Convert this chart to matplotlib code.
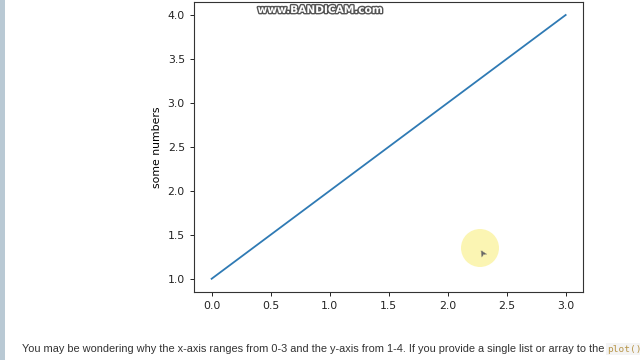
import matplotlib
matplotlib.use("Agg")
import matplotlib.pyplot as plt
import matplotlib.patheffects as pe
from matplotlib.patches import Ellipse, Rectangle

# datos del ejemplo: plt.plot([1, 2, 3, 4])
y_vals = [1, 2, 3, 4]
x_vals = [0, 1, 2, 3]
y_label = "some numbers"
x_ticks = [0.0, 0.5, 1.0, 1.5, 2.0, 2.5, 3.0]
y_ticks = [1.0, 1.5, 2.0, 2.5, 3.0, 3.5, 4.0]

fig = plt.figure(figsize=(6.4, 3.6), dpi=100)
fig.patch.set_facecolor("white")

# barra lateral gris-azulada de la pagina
fig.patches.append(Rectangle((0, 0), 5 / 640, 1, transform=fig.transFigure,
                             facecolor="#b9c9d4", edgecolor="none"))

ax = fig.add_axes([0.303, 0.189, 0.6085, 0.806])
ax.plot(x_vals, y_vals, color="#2f7ab4", linewidth=1.3)
ax.set_xticks(x_ticks)
ax.set_yticks(y_ticks)
ax.tick_params(labelsize=7.8, length=3, width=0.7, colors="#222222")
ax.set_ylabel(y_label, fontsize=7.8, labelpad=4)
for s in ax.spines.values():
    s.set_linewidth(0.8)
    s.set_color("#333333")

# marca de agua
fig.text(320 / 640, 1 - 10 / 360, "www.BANDICAM.com", ha="center", va="center",
         fontsize=7.6, color="white", fontweight="bold",
         path_effects=[pe.withStroke(linewidth=2, foreground="#555555")])

# cursor resaltado
fig.patches.append(Ellipse((480 / 640, 1 - 248 / 360), 38 / 640, 38 / 360,
                           transform=fig.transFigure,
                           facecolor="#fbf3a0", edgecolor="none", alpha=0.8))
fig.text(482 / 640, 1 - 251 / 360, "\u27a4", fontsize=7, color="#666666",
         ha="center", va="center", rotation=120)

# texto de la pagina
fig.text(22 / 640, 1 - 349 / 360,
         "You may be wondering why the x-axis ranges from 0-3 and the y-axis from 1-4. If you provide a single list or array to the",
         fontsize=7.9, family="Liberation Sans", color="#333333", va="center")
fig.text(607 / 640, 1 - 349 / 360, "plot()", fontsize=6.8, family="DejaVu Sans Mono",
         color="#b8964a", va="center",
         bbox=dict(facecolor="#f4f4f4", edgecolor="none", pad=1))

fig.savefig("out.png", dpi=100)
